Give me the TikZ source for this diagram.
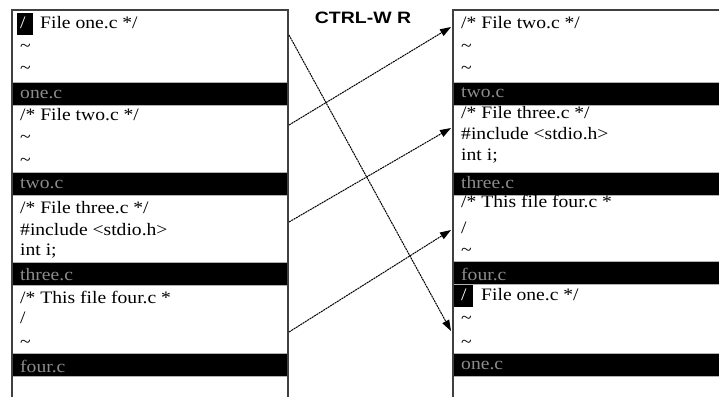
\documentclass[tikz,border=0pt]{standalone}
\usepackage{fontspec}
\setmainfont{Liberation Serif}[FakeStretch=1.12]
\newfontfamily\titlefont{Liberation Sans}[FakeStretch=1.18]
\usetikzlibrary{arrows.meta}

\tikzset{
	codeline/.style={anchor=base west, inner sep=0pt, font=\fontsize{17.5}{20}\selectfont},
	statusline/.style={codeline, text=gray!90},
	statusbar/.style={fill=black, draw=gray!60, line width=0.8pt},
	marco/.style={draw=black!75, line width=1.3pt},
	salto/.style={-{Triangle[length=11pt,width=7.5pt]}, line width=1pt, dash pattern=on 2pt off 0.7pt},
}

\begin{document}
\begin{tikzpicture}[x=1pt, y=-1pt]
			\useasboundingbox (0,0) rectangle (719,397);

			% Barras de estado
			\foreach \b in {82,172,262,353}
				{
					\draw[statusbar] (12,\b) rectangle (288,{\b+23});
				}
			\foreach \b in {82,172,261,353}
				{
					\draw[statusbar] (453,\b) rectangle (730,{\b+23});
				}

			% Marcos de las ventanas
			\draw[marco] (12,397) -- (12,10) -- (288,10) -- (288,397);
			\draw[marco] (453,397) -- (453,10) -- (730,10);

			% Ventanas antes
			\fill (17,13) rectangle (33,35);
			\node[codeline, text=white] (cura) at (20,28) {/};
			\node[codeline] (a1) at (40,28) {File one.c */};
			\node[codeline] (a2) at (20,51) {\textasciitilde};
			\node[codeline] (a3) at (20,73) {\textasciitilde};
			\node[statusline] (sa1) at (20,98) {one.c};
			\node[codeline] (a4) at (20,120) {/* File two.c */};
			\node[codeline] (a5) at (20,142) {\textasciitilde};
			\node[codeline] (a6) at (20,165) {\textasciitilde};
			\node[statusline] (sa2) at (20,188) {two.c};
			\node[codeline] (a7) at (20,213) {/* File three.c */};
			\node[codeline] (a8) at (20,235) {\#include <stdio.h>};
			\node[codeline] (a9) at (20,255) {int i;};
			\node[statusline] (sa3) at (20,280) {three.c};
			\node[codeline] (a10) at (20,303) {/* This file four.c *};
			\node[codeline] (a11) at (20,323) {/};
			\node[codeline] (a12) at (20,347) {\textasciitilde};
			\node[statusline] (sa4) at (20,372) {four.c};

			% Ventanas despues
			\node[codeline] (b1) at (461,28) {/* File two.c */};
			\node[codeline] (b2) at (461,51) {\textasciitilde};
			\node[codeline] (b3) at (461,73) {\textasciitilde};
			\node[statusline] (sb1) at (461,97) {two.c};
			\node[codeline] (b4) at (461,118) {/* File three.c */};
			\node[codeline] (b5) at (461,139) {\#include <stdio.h>};
			\node[codeline] (b6) at (461,160) {int i;};
			\node[statusline] (sb2) at (461,188) {three.c};
			\node[codeline] (b7) at (461,207) {/* This file four.c *};
			\node[codeline] (b8) at (461,233) {/};
			\node[codeline] (b9) at (461,255) {\textasciitilde};
			\node[statusline] (sb3) at (461,280) {four.c};
			\fill (454,285) rectangle (473,307);
			\node[codeline, text=white] (curb) at (461,300) {/};
			\node[codeline] (b10) at (481,300) {File one.c */};
			\node[codeline] (b11) at (461,323) {\textasciitilde};
			\node[codeline] (b12) at (461,347) {\textasciitilde};
			\node[statusline] (sb4) at (461,369) {one.c};

			% Comando
			\node[font=\titlefont\bfseries\fontsize{16.5}{18}\selectfont] (cmd) at (363,18) {CTRL-W R};

			% Flechas
			\coordinate (s1) at (289,35);
			\coordinate (d1) at (451,331);
			\coordinate (s2) at (289,125);
			\coordinate (d2) at (451,27);
			\coordinate (s3) at (289,222);
			\coordinate (d3) at (451,128);
			\coordinate (s4) at (289,332);
			\coordinate (d4) at (451,230);
			\draw[salto] (s1) -- (d1);
			\draw[salto] (s2) -- (d2);
			\draw[salto] (s3) -- (d3);
			\draw[salto] (s4) -- (d4);

		\end{tikzpicture}
\end{document}
